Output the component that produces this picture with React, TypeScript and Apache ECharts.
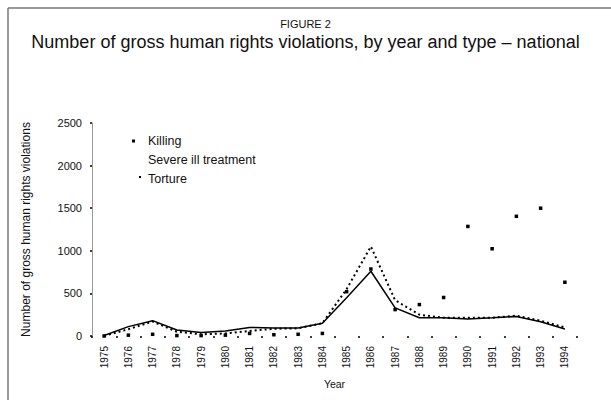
import React, { useEffect, useRef } from "react";
import * as echarts from "echarts";

const years = ["1975","1976","1977","1978","1979","1980","1981","1982","1983","1984","1985","1986","1987","1988","1989","1990","1991","1992","1993","1994"];
const killing = [0, 10, 20, 5, 5, 10, 30, 15, 20, 30, 520, 786, 310, 369, 452, 1286, 1024, 1405, 1500, 631];
const severeIllTreatment = [5, 110, 180, 70, 40, 60, 100, 95, 95, 150, 450, 760, 330, 214, 214, 200, 214, 230, 167, 83];
const torture = [0, 80, 170, 50, 20, 30, 60, 85, 90, 150, 550, 1050, 420, 250, 214, 214, 214, 238, 180, 100];
const yTicks = [0, 500, 1000, 1500, 2000, 2500];

const NARROW = '"Liberation Sans Narrow", "Arial Narrow", "Liberation Sans", sans-serif';
const SANS = '"Liberation Sans", Arial, sans-serif';

export default function App() {
  const ref = useRef<HTMLDivElement>(null);
  useEffect(() => {
    document.body.style.margin = "0";
    const chart = echarts.init(ref.current!, null, { renderer: "svg" });
    chart.setOption({
      animation: false,
      backgroundColor: "#fff",
      title: [
        {
          text: "FIGURE 2",
          left: "center",
          top: 13,
          textStyle: { fontFamily: NARROW, fontSize: 11, fontWeight: "normal", color: "#111" },
        },
        {
          text: "Number of gross human rights violations, by year and type – national",
          left: "center",
          top: 28,
          textStyle: { fontFamily: NARROW, fontSize: 18, fontWeight: "normal", color: "#111" },
        },
      ],
      legend: {
        orient: "vertical",
        left: 122,
        top: 129,
        itemWidth: 16,
        itemHeight: 8,
        itemGap: 5,
        symbolKeepAspect: false,
        textStyle: { fontFamily: SANS, fontSize: 12.5, lineHeight: 14, color: "#111" },
        data: [
          { name: "Killing", icon: "path://M0,0M16,8M5,2.5h3v3h-3z", itemStyle: { color: "#000" } },
          { name: "Severe ill treatment", icon: "path://M0,0M16,8M8,4h0.1v0.1h-0.1z", itemStyle: { color: "#fff" } },
          { name: "Torture", icon: "path://M0,0M16,8M12,1h2v2h-2z", itemStyle: { color: "#000" } },
        ],
      },
      grid: { left: 92, right: 34, top: 123, bottom: 64 },
      xAxis: {
        type: "category",
        data: years,
        boundaryGap: true,
        name: "Year",
        nameLocation: "middle",
        nameGap: 42,
        nameTextStyle: { fontFamily: SANS, fontSize: 10.5, color: "#111" },
        axisLine: { show: false },
        axisTick: { show: true, length: 2, lineStyle: { color: "#000", width: 1.5 } },
        axisLabel: { rotate: 90, margin: 10, fontFamily: SANS, fontSize: 10, color: "#111" },
      },
      yAxis: {
        type: "value",
        min: 0,
        max: 2500,
        interval: 500,
        name: "Number of gross human rights violations",
        nameLocation: "middle",
        nameGap: 60,
        nameTextStyle: { fontFamily: SANS, fontSize: 12, color: "#111" },
        axisLine: { show: true, lineStyle: { color: "#999", width: 1 } },
        axisTick: { show: true, length: 2, lineStyle: { color: "#000", width: 1.5 } },
        axisLabel: {
          margin: 10,
          fontFamily: SANS,
          fontSize: 11,
          color: "#111",
          formatter: (v: number) => (yTicks.includes(v) ? String(v) : ""),
        },
        splitLine: { show: false },
      },
      series: [
        {
          name: "Killing",
          type: "line",
          data: killing,
          symbol: "rect",
          symbolSize: 3.5,
          showSymbol: true,
          itemStyle: { color: "#000" },
          lineStyle: { width: 0, opacity: 0 },
          z: 5,
        },
        {
          name: "Severe ill treatment",
          type: "line",
          data: severeIllTreatment,
          symbol: "none",
          itemStyle: { color: "#000" },
          lineStyle: { color: "#000", width: 1.5, type: "solid" },
        },
        {
          name: "Torture",
          type: "line",
          data: torture,
          symbol: "none",
          itemStyle: { color: "#000" },
          lineStyle: { color: "#000", width: 2, type: [2, 3] },
        },
      ],
      graphic: [
        { type: "line", shape: { x1: 8, y1: 8, x2: 611, y2: 8 }, style: { stroke: "#777", lineWidth: 1.5 } },
        { type: "line", shape: { x1: 8, y1: 8, x2: 8, y2: 400 }, style: { stroke: "#777", lineWidth: 1.5 } },
      ],
    });
    return () => chart.dispose();
  }, []);
  return <div ref={ref} style={{ width: 611, height: 400 }} />;
}
